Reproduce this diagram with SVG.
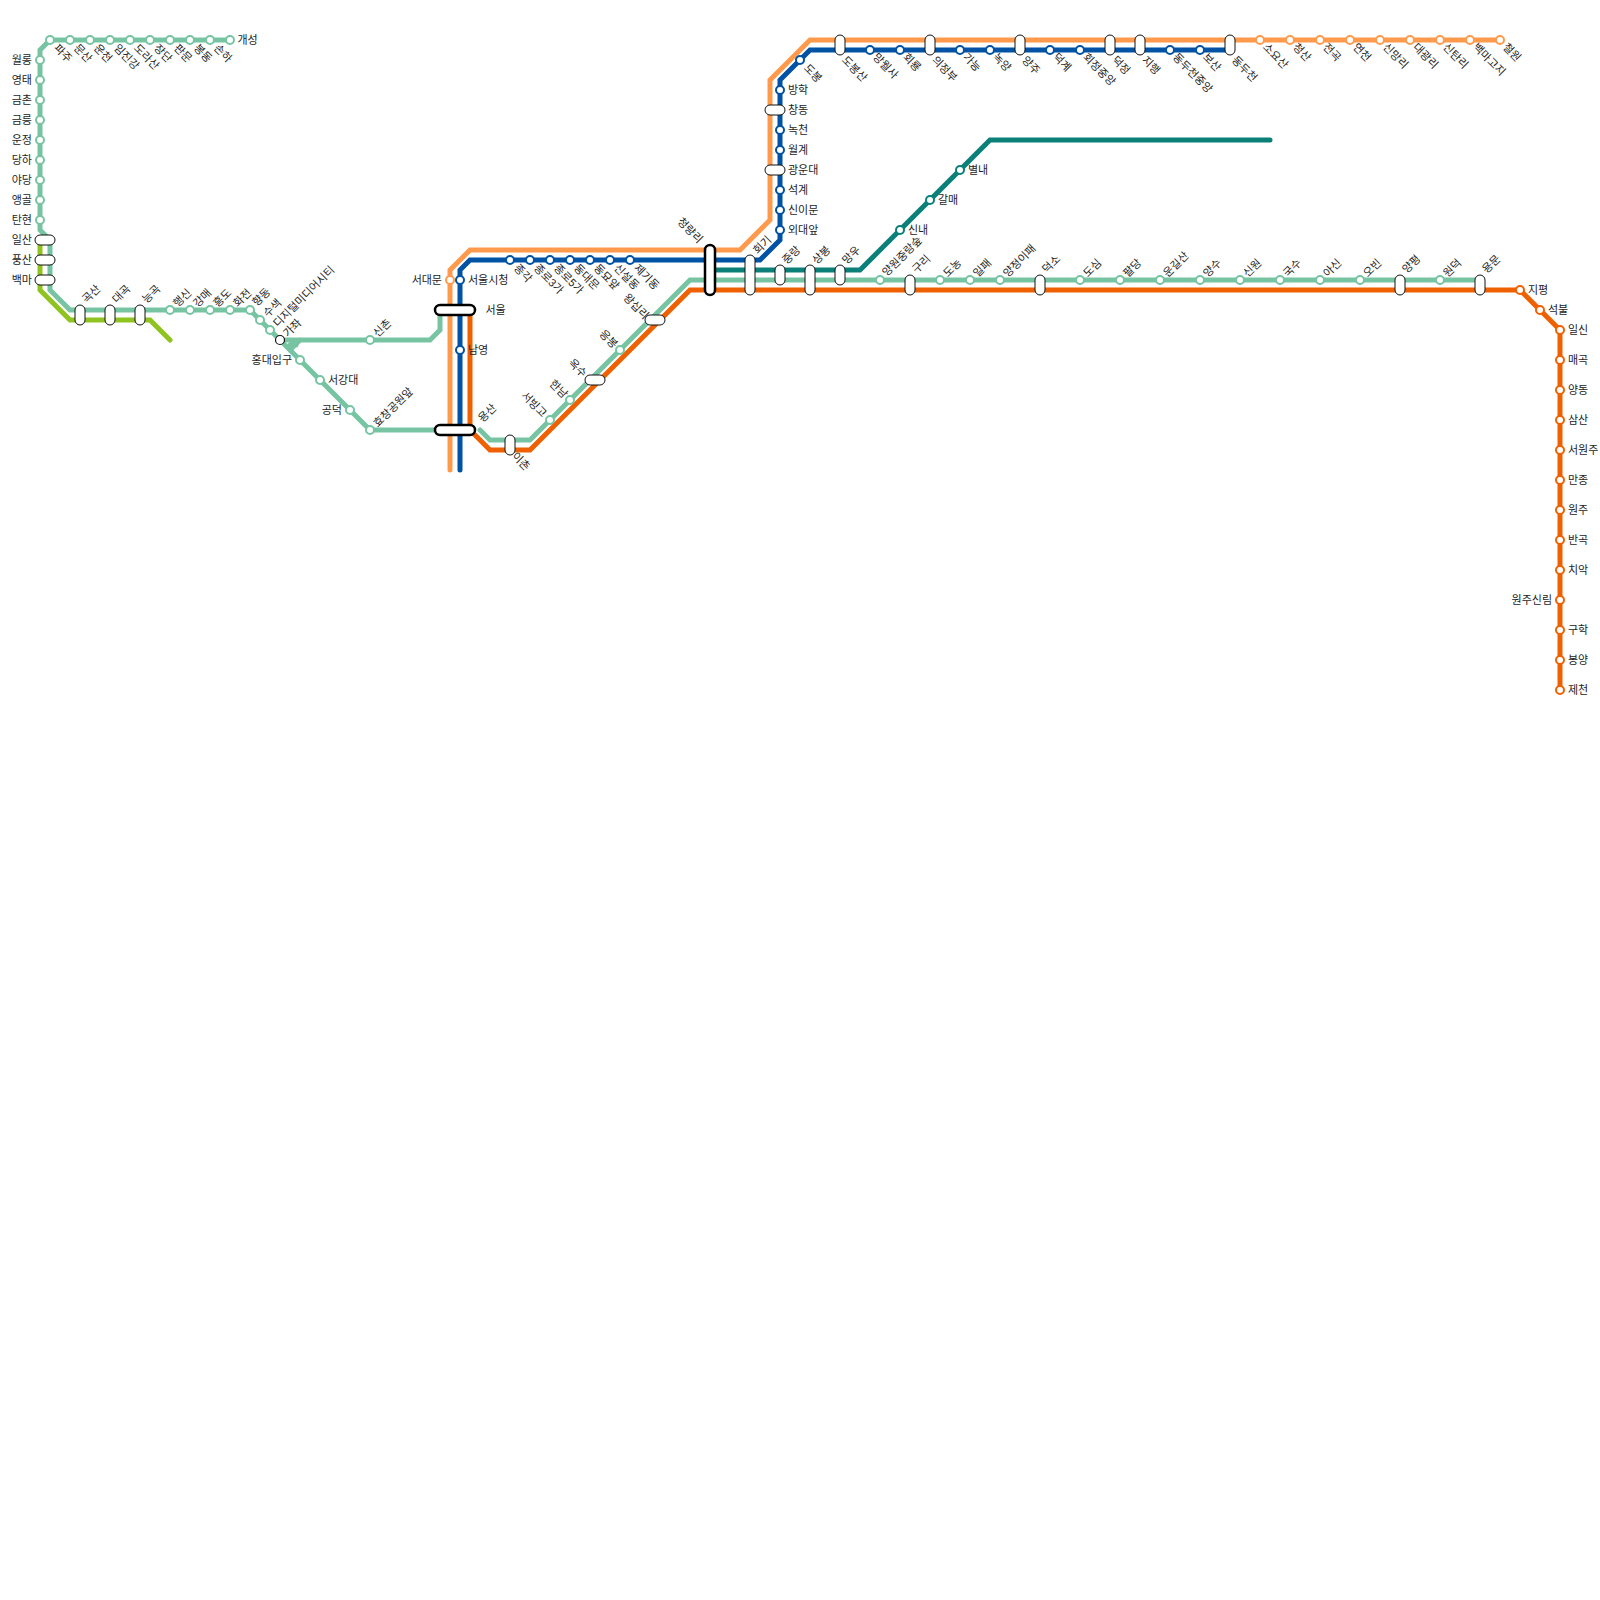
<svg xmlns="http://www.w3.org/2000/svg" width="1600" height="1600" viewBox="0 0 1600 1600">
<style>
text{font-family:"Liberation Sans","Noto Sans CJK KR",sans-serif;font-size:11px;fill:#222;opacity:.99}
.e{text-anchor:end}
.l{fill:none;stroke-width:5;stroke-linecap:round;stroke-linejoin:miter}
.g{stroke:#77C4A3}.o{stroke:#FF9A4D}.b{stroke:#0052A4}.r{stroke:#EF6000}.t{stroke:#0A8078}.y{stroke:#8FC31F}
circle{fill:#fff;stroke-width:2}
.x{stroke:#111;stroke-width:1.2}
rect{fill:#fff;stroke:#111;stroke-width:1}
.k{stroke:#000;stroke-width:2.5}
</style>
<g id="connectors">
<path class="l y" d="M40 240V290L70 320H150L170 340"/>
<path class="l g" d="M230 40H50L40 50V230L50 240V290L70 310H250L280 340L370 430H440"/>
<path class="l g" d="M280 340H430L440 330V312M300 340L290 350M290 345H296"/>
<path class="l g" d="M480 430L490 440H530L690 280H1480"/>
<path class="l o" d="M1500 40H810L770 80V220L740 250H470L450 270V470"/>
<path class="l b" d="M1230 50H810L780 80V240L760 260H470L460 270V470"/>
<path class="l r" d="M470 310V430L490 450H530L690 290H1520L1560 330V690"/>
<path class="l t" d="M710 270H860L990 140H1270"/>
</g>
<g id="paju"><circle class="g" cx="50" cy="40" r="4"/><text transform="translate(56 46) rotate(45)" dy="4">파주</text></g>
<g id="munsan"><circle class="g" cx="70" cy="40" r="4"/><text transform="translate(76 46) rotate(45)" dy="4">문산</text></g>
<g id="uncheon"><circle class="g" cx="90" cy="40" r="4"/><text transform="translate(96 46) rotate(45)" dy="4">운천</text></g>
<g id="imjingang"><circle class="g" cx="110" cy="40" r="4"/><text transform="translate(116 46) rotate(45)" dy="4">임진강</text></g>
<g id="dorasan"><circle class="g" cx="130" cy="40" r="4"/><text transform="translate(136 46) rotate(45)" dy="4">도라산</text></g>
<g id="jangdan"><circle class="g" cx="150" cy="40" r="4"/><text transform="translate(156 46) rotate(45)" dy="4">장단</text></g>
<g id="panmun"><circle class="g" cx="170" cy="40" r="4"/><text transform="translate(176 46) rotate(45)" dy="4">판문</text></g>
<g id="bongdong"><circle class="g" cx="190" cy="40" r="4"/><text transform="translate(196 46) rotate(45)" dy="4">봉동</text></g>
<g id="sonha"><circle class="g" cx="210" cy="40" r="4"/><text transform="translate(216 46) rotate(45)" dy="4">손하</text></g>
<g id="gaeseong"><circle class="g" cx="230" cy="40" r="4"/><text x="237.500" y="44">개성</text></g>
<g id="wollong"><circle class="g" cx="40" cy="60" r="4"/><text class="e" x="32" y="64">월롱</text></g>
<g id="yeongtae"><circle class="g" cx="40" cy="80" r="4"/><text class="e" x="32" y="84">영태</text></g>
<g id="geumchon"><circle class="g" cx="40" cy="100" r="4"/><text class="e" x="32" y="104">금촌</text></g>
<g id="geumneung"><circle class="g" cx="40" cy="120" r="4"/><text class="e" x="32" y="124">금릉</text></g>
<g id="unjeong"><circle class="g" cx="40" cy="140" r="4"/><text class="e" x="32" y="144">운정</text></g>
<g id="dangha"><circle class="g" cx="40" cy="160" r="4"/><text class="e" x="32" y="164">당하</text></g>
<g id="yadang"><circle class="g" cx="40" cy="180" r="4"/><text class="e" x="32" y="184">야당</text></g>
<g id="aenggol"><circle class="g" cx="40" cy="200" r="4"/><text class="e" x="32" y="204">앵골</text></g>
<g id="tanhyeon"><circle class="g" cx="40" cy="220" r="4"/><text class="e" x="32" y="224">탄현</text></g>
<g id="ilsan"><rect x="35" y="235" width="20" height="10" rx="5"/><text class="e" x="32" y="244">일산</text></g>
<g id="pungsan"><rect x="35" y="255" width="20" height="10" rx="5"/><text class="e" x="32" y="264">풍산</text></g>
<g id="baengma"><rect x="35" y="275" width="20" height="10" rx="5"/><text class="e" x="32" y="284">백마</text></g>
<g id="goksan"><rect x="75" y="305" width="10" height="20" rx="5"/><text transform="translate(84 301) rotate(-45)" dy="4">곡산</text></g>
<g id="daegok"><rect x="105" y="305" width="10" height="20" rx="5"/><text transform="translate(114 301) rotate(-45)" dy="4">대곡</text></g>
<g id="neunggok"><rect x="135" y="305" width="10" height="20" rx="5"/><text transform="translate(144 301) rotate(-45)" dy="4">능곡</text></g>
<g id="haengsin"><circle class="g" cx="170" cy="310" r="4"/><text transform="translate(175 305) rotate(-45)" dy="4">행신</text></g>
<g id="gangmae"><circle class="g" cx="190" cy="310" r="4"/><text transform="translate(195 305) rotate(-45)" dy="4">강매</text></g>
<g id="heungdo"><circle class="g" cx="210" cy="310" r="4"/><text transform="translate(215 305) rotate(-45)" dy="4">흥도</text></g>
<g id="hwajeon"><circle class="g" cx="230" cy="310" r="4"/><text transform="translate(235 305) rotate(-45)" dy="4">화전</text></g>
<g id="hyangdong"><circle class="g" cx="250" cy="310" r="4"/><text transform="translate(254 304) rotate(-45)" dy="4">향동</text></g>
<g id="susaek"><circle class="g" cx="260" cy="320" r="4"/><text transform="translate(265 315) rotate(-45)" dy="4">수색</text></g>
<g id="dmc"><circle class="g" cx="270" cy="330" r="4"/><text transform="translate(275 325) rotate(-45)" dy="4">디지털미디어시티</text></g>
<g id="gajwa"><circle class="x" cx="280" cy="340" r="4.500"/><text transform="translate(285 335) rotate(-45)" dy="4">가좌</text></g>
<g id="hongik"><circle class="g" cx="300" cy="360" r="4"/><text class="e" x="292" y="364">홍대입구</text></g>
<g id="sogang"><circle class="g" cx="320" cy="380" r="4"/><text x="328" y="384">서강대</text></g>
<g id="gongdeok"><circle class="g" cx="350" cy="410" r="4"/><text class="e" x="342" y="414">공덕</text></g>
<g id="hyochang"><circle class="g" cx="370" cy="430" r="4"/><text transform="translate(375 425) rotate(-45)" dy="4">효창공원앞</text></g>
<g id="sinchon"><circle class="g" cx="370" cy="340" r="4"/><text transform="translate(375 335) rotate(-45)" dy="4">신촌</text></g>
<g id="seodaemun"><circle class="o" cx="450" cy="280" r="4"/><text class="e" x="442" y="284">서대문</text></g>
<g id="cityhall"><circle class="b" cx="460" cy="280" r="4"/><text x="468" y="284">서울시청</text></g>
<g id="seoul"><rect class="k" x="435" y="305" width="40" height="10" rx="5"/><text x="485.500" y="314">서울</text></g>
<g id="namyeong"><circle class="b" cx="460" cy="350" r="4"/><text x="468" y="354">남영</text></g>
<g id="yongsan"><rect class="k" x="435" y="425" width="40" height="10" rx="5"/><text transform="translate(480 420) rotate(-45)" dy="4">용산</text></g>
<g id="ichon"><rect x="505" y="435" width="10" height="20" rx="5"/><text transform="translate(514 454) rotate(45)" dy="4">이촌</text></g>
<g id="seobinggo"><circle class="g" cx="550" cy="420" r="4"/><text class="e" transform="translate(545 415) rotate(45)" dy="4">서빙고</text></g>
<g id="hannam"><circle class="g" cx="570" cy="400" r="4"/><text class="e" transform="translate(566 396) rotate(45)" dy="4">한남</text></g>
<g id="oksu"><rect x="585" y="375" width="20" height="10" rx="5"/><text class="e" transform="translate(585 375) rotate(45)" dy="4">옥수</text></g>
<g id="eungbong"><circle class="g" cx="620" cy="350" r="4"/><text class="e" transform="translate(616 346) rotate(45)" dy="4">응봉</text></g>
<g id="wangsimni"><rect x="645" y="315" width="20" height="10" rx="5"/><text class="e" transform="translate(647 317) rotate(45)" dy="4">왕십리</text></g>
<g id="jonggak"><circle class="b" cx="510" cy="260" r="4"/><text transform="translate(516 266) rotate(45)" dy="4">종각</text></g>
<g id="jongno3"><circle class="b" cx="530" cy="260" r="4"/><text transform="translate(536 266) rotate(45)" dy="4">종로3가</text></g>
<g id="jongno5"><circle class="b" cx="550" cy="260" r="4"/><text transform="translate(556 266) rotate(45)" dy="4">종로5가</text></g>
<g id="dongdaemun"><circle class="b" cx="570" cy="260" r="4"/><text transform="translate(576 266) rotate(45)" dy="4">동대문</text></g>
<g id="dongmyo"><circle class="b" cx="590" cy="260" r="4"/><text transform="translate(596 266) rotate(45)" dy="4">동묘앞</text></g>
<g id="sinseol"><circle class="b" cx="610" cy="260" r="4"/><text transform="translate(616 266) rotate(45)" dy="4">신설동</text></g>
<g id="jegi"><circle class="b" cx="630" cy="260" r="4"/><text transform="translate(636 266) rotate(45)" dy="4">제기동</text></g>
<g id="cheongnyangni"><rect class="k" x="705" y="245" width="10" height="50" rx="5"/><text class="e" transform="translate(701 241) rotate(45)" dy="4">청량리</text></g>
<g id="hoegi"><rect x="745" y="255" width="10" height="40" rx="5"/><text transform="translate(755 252) rotate(-45)" dy="4">회기</text></g>
<g id="jungnang"><rect x="775" y="265" width="10" height="20" rx="5"/><text transform="translate(784 262) rotate(-45)" dy="4">중랑</text></g>
<g id="sangbong"><rect x="805" y="265" width="10" height="30" rx="5"/><text transform="translate(814 262) rotate(-45)" dy="4">상봉</text></g>
<g id="mangu"><rect x="835" y="265" width="10" height="20" rx="5"/><text transform="translate(844 262) rotate(-45)" dy="4">망우</text></g>
<g id="sinnae"><circle class="t" cx="900" cy="230" r="4"/><text x="908" y="234">신내</text></g>
<g id="galmae"><circle class="t" cx="930" cy="200" r="4"/><text x="938" y="204">갈매</text></g>
<g id="byeollae"><circle class="t" cx="960" cy="170" r="4"/><text x="968" y="174">별내</text></g>
<g id="banghak"><circle class="b" cx="780" cy="90" r="4"/><text x="788" y="94">방학</text></g>
<g id="changdong"><rect x="765" y="105" width="20" height="10" rx="5"/><text x="788" y="114">창동</text></g>
<g id="nokcheon"><circle class="b" cx="780" cy="130" r="4"/><text x="788" y="134">녹천</text></g>
<g id="wolgye"><circle class="b" cx="780" cy="150" r="4"/><text x="788" y="154">월계</text></g>
<g id="gwangun"><rect x="765" y="165" width="20" height="10" rx="5"/><text x="788" y="174">광운대</text></g>
<g id="seokgye"><circle class="b" cx="780" cy="190" r="4"/><text x="788" y="194">석계</text></g>
<g id="sinimun"><circle class="b" cx="780" cy="210" r="4"/><text x="788" y="214">신이문</text></g>
<g id="oedae"><circle class="b" cx="780" cy="230" r="4"/><text x="788" y="234">외대앞</text></g>
<g id="dobong"><circle class="b" cx="800" cy="60" r="4"/><text transform="translate(806 66) rotate(45)" dy="4">도봉</text></g>
<g id="dobongsan"><rect x="835" y="35" width="10" height="20" rx="5"/><text transform="translate(844 58) rotate(45)" dy="4">도봉산</text></g>
<g id="mangwolsa"><circle class="b" cx="870" cy="50" r="4"/><text transform="translate(875 55) rotate(45)" dy="4">망월사</text></g>
<g id="hoeryong"><circle class="b" cx="900" cy="50" r="4"/><text transform="translate(905 55) rotate(45)" dy="4">회룡</text></g>
<g id="uijeongbu"><rect x="925" y="35" width="10" height="20" rx="5"/><text transform="translate(934 58) rotate(45)" dy="4">의정부</text></g>
<g id="ganeung"><circle class="b" cx="960" cy="50" r="4"/><text transform="translate(965 55) rotate(45)" dy="4">가능</text></g>
<g id="nogyang"><circle class="b" cx="990" cy="50" r="4"/><text transform="translate(995 55) rotate(45)" dy="4">녹양</text></g>
<g id="yangju"><rect x="1015" y="35" width="10" height="20" rx="5"/><text transform="translate(1024 58) rotate(45)" dy="4">양주</text></g>
<g id="deokgye"><circle class="b" cx="1050" cy="50" r="4"/><text transform="translate(1055 55) rotate(45)" dy="4">덕계</text></g>
<g id="hoejeong"><circle class="b" cx="1080" cy="50" r="4"/><text transform="translate(1085 55) rotate(45)" dy="4">회정중앙</text></g>
<g id="deokjeong"><rect x="1105" y="35" width="10" height="20" rx="5"/><text transform="translate(1114 58) rotate(45)" dy="4">덕정</text></g>
<g id="jihaeng"><rect x="1135" y="35" width="10" height="20" rx="5"/><text transform="translate(1144 58) rotate(45)" dy="4">지행</text></g>
<g id="ddc-jungang"><circle class="b" cx="1170" cy="50" r="4"/><text transform="translate(1175 55) rotate(45)" dy="4">동두천중앙</text></g>
<g id="bosan"><circle class="b" cx="1200" cy="50" r="4"/><text transform="translate(1205 55) rotate(45)" dy="4">보산</text></g>
<g id="dongducheon"><rect x="1225" y="35" width="10" height="20" rx="5"/><text transform="translate(1234 58) rotate(45)" dy="4">동두천</text></g>
<g id="soyosan"><circle class="o" cx="1260" cy="40" r="4"/><text transform="translate(1265 45) rotate(45)" dy="4">소요산</text></g>
<g id="cheongsan"><circle class="o" cx="1290" cy="40" r="4"/><text transform="translate(1295 45) rotate(45)" dy="4">청산</text></g>
<g id="jeongok"><circle class="o" cx="1320" cy="40" r="4"/><text transform="translate(1325 45) rotate(45)" dy="4">전곡</text></g>
<g id="yeoncheon"><circle class="o" cx="1350" cy="40" r="4"/><text transform="translate(1355 45) rotate(45)" dy="4">연천</text></g>
<g id="sinmangni"><circle class="o" cx="1380" cy="40" r="4"/><text transform="translate(1385 45) rotate(45)" dy="4">신망리</text></g>
<g id="daegwangni"><circle class="o" cx="1410" cy="40" r="4"/><text transform="translate(1415 45) rotate(45)" dy="4">대광리</text></g>
<g id="sintanni"><circle class="o" cx="1440" cy="40" r="4"/><text transform="translate(1445 45) rotate(45)" dy="4">신탄리</text></g>
<g id="baengmagoji"><circle class="o" cx="1470" cy="40" r="4"/><text transform="translate(1475 45) rotate(45)" dy="4">백마고지</text></g>
<g id="cheorwon"><circle class="o" cx="1500" cy="40" r="4"/><text transform="translate(1505 45) rotate(45)" dy="4">철원</text></g>
<g id="yangwon"><circle class="g" cx="880" cy="280" r="4"/><text transform="translate(884 274) rotate(-45)" dy="4">양원중랑숲</text></g>
<g id="guri"><rect x="905" y="275" width="10" height="20" rx="5"/><text transform="translate(914 271) rotate(-45)" dy="4">구리</text></g>
<g id="donong"><circle class="g" cx="940" cy="280" r="4"/><text transform="translate(945 275) rotate(-45)" dy="4">도농</text></g>
<g id="ilpae"><circle class="g" cx="970" cy="280" r="4"/><text transform="translate(975 275) rotate(-45)" dy="4">일패</text></g>
<g id="yangjeong"><circle class="g" cx="1000" cy="280" r="4"/><text transform="translate(1005 275) rotate(-45)" dy="4">양정이패</text></g>
<g id="deokso"><rect x="1035" y="275" width="10" height="20" rx="5"/><text transform="translate(1044 271) rotate(-45)" dy="4">덕소</text></g>
<g id="dosim"><circle class="g" cx="1080" cy="280" r="4"/><text transform="translate(1085 275) rotate(-45)" dy="4">도심</text></g>
<g id="paldang"><circle class="g" cx="1120" cy="280" r="4"/><text transform="translate(1125 275) rotate(-45)" dy="4">팔당</text></g>
<g id="ungilsan"><circle class="g" cx="1160" cy="280" r="4"/><text transform="translate(1165 275) rotate(-45)" dy="4">운길산</text></g>
<g id="yangsu"><circle class="g" cx="1200" cy="280" r="4"/><text transform="translate(1205 275) rotate(-45)" dy="4">양수</text></g>
<g id="sinwon"><circle class="g" cx="1240" cy="280" r="4"/><text transform="translate(1245 275) rotate(-45)" dy="4">신원</text></g>
<g id="guksu"><circle class="g" cx="1280" cy="280" r="4"/><text transform="translate(1285 275) rotate(-45)" dy="4">국수</text></g>
<g id="asin"><circle class="g" cx="1320" cy="280" r="4"/><text transform="translate(1325 275) rotate(-45)" dy="4">아신</text></g>
<g id="obin"><circle class="g" cx="1360" cy="280" r="4"/><text transform="translate(1365 275) rotate(-45)" dy="4">오빈</text></g>
<g id="yangpyeong"><rect x="1395" y="275" width="10" height="20" rx="5"/><text transform="translate(1404 271) rotate(-45)" dy="4">양평</text></g>
<g id="wondeok"><circle class="g" cx="1440" cy="280" r="4"/><text transform="translate(1445 275) rotate(-45)" dy="4">원덕</text></g>
<g id="yongmun"><rect x="1475" y="275" width="10" height="20" rx="5"/><text transform="translate(1484 271) rotate(-45)" dy="4">용문</text></g>
<g id="jipyeong"><circle class="r" cx="1520" cy="290" r="4"/><text x="1528" y="294">지평</text></g>
<g id="seokbul"><circle class="r" cx="1540" cy="310" r="4"/><text x="1548" y="314">석불</text></g>
<g id="ilsin"><circle class="r" cx="1560" cy="330" r="4"/><text x="1568" y="334">일신</text></g>
<g id="maegok"><circle class="r" cx="1560" cy="360" r="4"/><text x="1568" y="364">매곡</text></g>
<g id="yangdong"><circle class="r" cx="1560" cy="390" r="4"/><text x="1568" y="394">양동</text></g>
<g id="samsan"><circle class="r" cx="1560" cy="420" r="4"/><text x="1568" y="424">삼산</text></g>
<g id="seowonju"><circle class="r" cx="1560" cy="450" r="4"/><text x="1568" y="454">서원주</text></g>
<g id="manjong"><circle class="r" cx="1560" cy="480" r="4"/><text x="1568" y="484">만종</text></g>
<g id="wonju"><circle class="r" cx="1560" cy="510" r="4"/><text x="1568" y="514">원주</text></g>
<g id="bangok"><circle class="r" cx="1560" cy="540" r="4"/><text x="1568" y="544">반곡</text></g>
<g id="chiak"><circle class="r" cx="1560" cy="570" r="4"/><text x="1568" y="574">치악</text></g>
<g id="wonjusinnim"><circle class="r" cx="1560" cy="600" r="4"/><text class="e" x="1552" y="604">원주신림</text></g>
<g id="guhak"><circle class="r" cx="1560" cy="630" r="4"/><text x="1568" y="634">구학</text></g>
<g id="bongyang"><circle class="r" cx="1560" cy="660" r="4"/><text x="1568" y="664">봉양</text></g>
<g id="jecheon"><circle class="r" cx="1560" cy="690" r="4"/><text x="1568" y="694">제천</text></g>
</svg>
